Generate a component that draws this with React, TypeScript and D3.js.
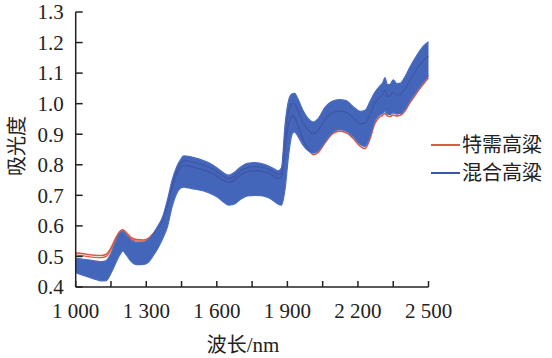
import React from 'react';
import * as d3 from 'd3';

// wavelength grid (nm)
const wavelengths = [
  1000, 1040, 1080, 1110, 1130, 1150, 1170, 1190, 1200, 1215, 1235, 1260, 1290, 1310, 1330, 1350,
  1370, 1390, 1410, 1430, 1445, 1460, 1480, 1510, 1540, 1570, 1600, 1630, 1650, 1670, 1700, 1730,
  1760, 1790, 1820, 1845, 1860, 1875, 1890, 1905, 1920, 1930, 1945, 1965, 1990, 2010, 2030, 2060,
  2090, 2120, 2150, 2180, 2210, 2230, 2250, 2270, 2290, 2305, 2315, 2325, 2335, 2350, 2365, 2380,
  2400, 2420, 2440, 2460, 2480, 2500,
];

// 混合高粱: upper / lower edge of the blue bundle
const blueUpper = [
  0.494, 0.490, 0.486, 0.483, 0.487, 0.510, 0.548, 0.578, 0.581, 0.570, 0.553, 0.546, 0.547, 0.556, 0.575, 0.600,
  0.630, 0.685, 0.750, 0.794, 0.816, 0.829, 0.828, 0.822, 0.815, 0.805, 0.790, 0.773, 0.766, 0.773, 0.792, 0.805,
  0.807, 0.804, 0.796, 0.786, 0.780, 0.790, 0.930, 1.010, 1.032, 1.034, 1.015, 0.980, 0.950, 0.940, 0.950, 0.988,
  1.008, 1.013, 1.010, 0.990, 0.975, 0.978, 1.005, 1.035, 1.055, 1.068, 1.085, 1.063, 1.062, 1.078, 1.066, 1.067,
  1.088, 1.118, 1.145, 1.170, 1.190, 1.203,
];
const blueLower = [
  0.447, 0.436, 0.426, 0.420, 0.421, 0.445, 0.478, 0.508, 0.518, 0.505, 0.484, 0.473, 0.474, 0.482, 0.503, 0.528,
  0.559, 0.597, 0.663, 0.707, 0.723, 0.727, 0.724, 0.720, 0.715, 0.707, 0.695, 0.677, 0.668, 0.670, 0.686, 0.698,
  0.700, 0.699, 0.692, 0.680, 0.672, 0.668, 0.720, 0.830, 0.900, 0.908, 0.893, 0.866, 0.845, 0.838, 0.845, 0.876,
  0.905, 0.915, 0.910, 0.892, 0.866, 0.860, 0.890, 0.940, 0.962, 0.968, 0.974, 0.966, 0.964, 0.970, 0.966, 0.967,
  0.982, 1.008, 1.030, 1.052, 1.072, 1.090,
];

// 特需高粱: two sample spectra
const redSampleA = [
  0.512, 0.508, 0.504, 0.503, 0.507, 0.528, 0.560, 0.584, 0.587, 0.578, 0.562, 0.555, 0.554, 0.560, 0.575, 0.595,
  0.620, 0.668, 0.725, 0.770, 0.790, 0.798, 0.797, 0.790, 0.784, 0.776, 0.763, 0.748, 0.742, 0.748, 0.766, 0.778,
  0.781, 0.779, 0.772, 0.762, 0.755, 0.760, 0.860, 0.930, 0.960, 0.955, 0.928, 0.885, 0.850, 0.833, 0.840, 0.872,
  0.900, 0.910, 0.905, 0.886, 0.860, 0.853, 0.882, 0.932, 0.955, 0.962, 0.968, 0.960, 0.958, 0.963, 0.960, 0.962,
  0.976, 1.002, 1.024, 1.046, 1.066, 1.085,
];
const redSampleB = [
  0.505, 0.501, 0.497, 0.496, 0.500, 0.522, 0.556, 0.580, 0.584, 0.574, 0.557, 0.550, 0.550, 0.557, 0.574, 0.597,
  0.626, 0.676, 0.738, 0.782, 0.804, 0.814, 0.813, 0.806, 0.800, 0.791, 0.777, 0.761, 0.754, 0.760, 0.779, 0.791,
  0.794, 0.792, 0.785, 0.775, 0.768, 0.775, 0.895, 0.975, 1.000, 1.000, 0.978, 0.940, 0.912, 0.902, 0.912, 0.948,
  0.970, 0.976, 0.972, 0.953, 0.934, 0.936, 0.962, 1.000, 1.020, 1.030, 1.045, 1.025, 1.024, 1.038, 1.028, 1.030,
  1.048, 1.075, 1.100, 1.124, 1.142, 1.155,
];

const yTicks = [0.4, 0.5, 0.6, 0.7, 0.8, 0.9, 1.0, 1.1, 1.2, 1.3];
const xTicks = [1000, 1150, 1300, 1450, 1600, 1750, 1900, 2050, 2200, 2350, 2500];
const xLabels = [1000, 1300, 1600, 1900, 2200, 2500];
const legendItems = [
  { name: '特需高粱', color: '#d95c48' },
  { name: '混合高粱', color: '#3456b0' },
];

const BLUE = '#2f55b3';
const RED = '#d95c48';
const SERIF = 'Liberation Serif, Times New Roman, Times, DejaVu Serif, serif';
const CJK = 'Noto Sans CJK SC, sans-serif';

const fmtX = (d: number) => `${Math.floor(d / 1000)} ${String(d % 1000).padStart(3, '0')}`;

export default function App() {
  const left = 75.7, right = 428.5, top = 12, bottom = 287;

  const x = d3.scaleLinear().domain([1000, 2500]).range([left, right]);
  const y = d3.scaleLinear().domain([0.4, 1.3]).range([bottom, top]);

  const band = d3.area<number>()
    .x((d, i) => x(wavelengths[i]))
    .y0((d, i) => y(blueLower[i]))
    .y1(d => y(d))
    .curve(d3.curveMonotoneX);

  const line = d3.line<number>()
    .x((d, i) => x(wavelengths[i]))
    .y(d => y(d))
    .curve(d3.curveMonotoneX);

  return (
    <svg width={552} height={358} style={{ position: 'absolute', left: 0, top: 0, background: '#fff' }}>
      {/* red samples below the blue bundle */}
      <path d={line(redSampleB) || ''} fill="none" stroke={RED} strokeWidth={1.3} />
      <path d={line(redSampleA) || ''} fill="none" stroke={RED} strokeWidth={1.6} />

      <path d={band(blueUpper) || ''} fill={BLUE} fillOpacity={0.9} stroke="none" />
      <path d={line(blueUpper) || ''} fill="none" stroke="#4a6cc0" strokeWidth={1.2} />
      <path d={line(blueLower) || ''} fill="none" stroke="#4a6cc0" strokeWidth={1.2} />

      {/* y axis */}
      <line x1={left} x2={left} y1={top} y2={bottom} stroke="#222" strokeWidth={1.5} />
      {yTicks.map(t => (
        <g key={t}>
          <line x1={left} x2={left + 7} y1={y(t)} y2={y(t)} stroke="#222" strokeWidth={1.5} />
          <text x={left - 12} y={y(t)} dy="0.35em" textAnchor="end" fontFamily={SERIF} fontSize={21} fill="#222">
            {t.toFixed(1)}
          </text>
        </g>
      ))}

      {/* x axis */}
      <line x1={left} x2={right} y1={bottom} y2={bottom} stroke="#222" strokeWidth={1.5} />
      {xTicks.map(t => (
        <line key={t} x1={x(t)} x2={x(t)} y1={bottom} y2={bottom - 6} stroke="#222" strokeWidth={1.5} />
      ))}
      {xLabels.map(t => (
        <text key={t} x={x(t)} y={318} textAnchor="middle" fontFamily={SERIF} fontSize={21} fill="#222">
          {fmtX(t)}
        </text>
      ))}

      <text x={243} y={352} textAnchor="middle" fontFamily={CJK} fontSize={20} fill="#222">
        波长<tspan fontFamily={SERIF} fontSize={21}>/nm</tspan>
      </text>
      <text transform="translate(24,146) rotate(-90)" textAnchor="middle" fontFamily={CJK} fontSize={20} fill="#222">
        吸光度
      </text>

      {legendItems.map((it, i) => (
        <g key={it.name} transform={`translate(431,${145 + i * 28})`}>
          <line x1={0} x2={29} y1={0} y2={0} stroke={it.color} strokeWidth={2} />
          <text x={31} y={0} dy="0.36em" fontFamily={CJK} fontSize={20} fill="#222">{it.name}</text>
        </g>
      ))}
    </svg>
  );
}
